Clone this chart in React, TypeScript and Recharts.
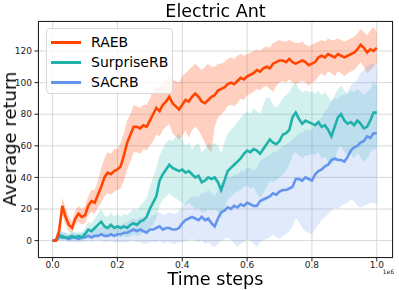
import React from "react";
import { ComposedChart, Line, Area, XAxis, YAxis, CartesianGrid } from "recharts";

// time steps (x 1e6)
const STEPS = [
  0.0, 0.01, 0.02, 0.03, 0.04, 0.05, 0.06, 0.07, 0.08, 0.09,
  0.1, 0.11, 0.12, 0.13, 0.14, 0.15, 0.16, 0.17, 0.18, 0.19,
  0.2, 0.21, 0.22, 0.23, 0.24, 0.25, 0.26, 0.27, 0.28, 0.29,
  0.3, 0.31, 0.32, 0.33, 0.34, 0.35, 0.36, 0.37, 0.38, 0.39,
  0.4, 0.41, 0.42, 0.43, 0.44, 0.45, 0.46, 0.47, 0.48, 0.49,
  0.5, 0.51, 0.52, 0.53, 0.54, 0.55, 0.56, 0.57, 0.58, 0.59,
  0.6, 0.61, 0.62, 0.63, 0.64, 0.65, 0.66, 0.67, 0.68, 0.69,
  0.7, 0.71, 0.72, 0.73, 0.74, 0.75, 0.76, 0.77, 0.78, 0.79,
  0.8, 0.81, 0.82, 0.83, 0.84, 0.85, 0.86, 0.87, 0.88, 0.89,
  0.9, 0.91, 0.92, 0.93, 0.94, 0.95, 0.96, 0.97, 0.98, 0.99,
  1.0,
];

const RAEB_MEAN = [
  0, 0, 6, 22, 15, 10, 8, 14, 17, 15,
  16, 22, 25, 24, 29, 34, 40, 43, 42, 44,
  45, 47, 54, 62, 67, 72, 72, 71, 73, 72,
  76, 80, 84, 82, 86, 88, 91, 87, 85, 83,
  86, 89, 88, 91, 93, 91, 88, 87, 89, 91,
  92, 95, 96, 97, 99, 100, 99, 101, 103, 102,
  104, 105, 106, 108, 107, 109, 110, 109, 112, 113,
  114, 114, 113, 115, 113, 112, 113, 114, 113, 111,
  112, 113, 116, 117, 116, 118, 117, 116, 118, 117,
  116, 117, 118, 119, 121, 124, 122, 119, 121, 120,
  122,
];
const RAEB_LO = [
  0, 0, 3, 16, 10, 6, 5, 10, 12, 10,
  11, 16, 18, 17, 21, 24, 28, 30, 29, 31,
  32, 33, 38, 45, 50, 56, 56, 55, 58, 57,
  60, 63, 67, 66, 70, 72, 74, 68, 66, 64,
  66, 70, 65, 70, 72, 70, 66, 62, 58, 56,
  72, 78, 80, 82, 85, 86, 85, 87, 90, 89,
  92, 93, 94, 96, 95, 97, 98, 96, 94, 98,
  100, 101, 100, 102, 100, 99, 100, 101, 100, 98,
  100, 101, 104, 106, 104, 107, 106, 104, 107, 106,
  104, 106, 107, 108, 110, 113, 110, 106, 108, 110,
  112,
];
const RAEB_HI = [
  0, 0, 10, 27, 21, 15, 12, 19, 22, 20,
  22, 28, 32, 32, 38, 46, 52, 56, 55, 58,
  58, 62, 68, 76, 80, 86, 85, 84, 86, 86,
  90, 95, 98, 97, 100, 102, 105, 102, 101, 100,
  104, 106, 108, 110, 112, 110, 108, 110, 112, 110,
  110, 112, 112, 113, 115, 116, 115, 117, 118, 117,
  118, 119, 120, 121, 120, 122, 123, 122, 125, 126,
  127, 126, 126, 127, 126, 125, 125, 126, 124, 123,
  124, 125, 126, 127, 126, 128, 127, 127, 128, 127,
  126, 127, 128, 129, 131, 134, 132, 130, 133, 135,
  132,
];

const SURPRISE_MEAN = [
  0, 0, 4, 2, 2, 2, 3, 2, 3, 2,
  4, 7, 6, 8, 10, 12, 9, 8, 10, 8,
  9, 8, 9, 8, 10, 11, 10, 12, 13, 15,
  20, 24, 28, 38, 42, 45, 48, 46, 45, 44,
  45, 43, 44, 42, 40, 41, 37, 38, 40, 39,
  40, 37, 32, 38, 44, 46, 48, 50, 52, 55,
  57, 56, 58, 57, 55, 58, 61, 64, 62, 61,
  63, 67, 68, 70, 78, 81, 77, 74, 76, 75,
  74, 73, 75, 72, 73, 70, 66, 72, 78, 80,
  76, 74, 75, 73, 76, 74, 71, 72, 76, 81,
  81,
];
const SURPRISE_LO = [
  0, 0, 1, 0, 0, 0, 0, 0, 0, 0,
  1, 3, 2, 3, 4, 5, 3, 2, 3, 2,
  3, 2, 3, 2, 3, 4, 3, 4, 5, 6,
  8, 10, 14, 22, 26, 28, 30, 28, 27, 25,
  24, 22, 24, 22, 20, 21, 18, 18, 20, 19,
  20, 18, 14, 20, 26, 28, 30, 31, 32, 34,
  35, 33, 34, 30, 27, 30, 34, 38, 37, 38,
  40, 42, 44, 48, 54, 56, 54, 52, 54, 54,
  55, 54, 56, 52, 53, 50, 48, 52, 58, 60,
  56, 54, 55, 52, 56, 53, 50, 52, 56, 58,
  58,
];
const SURPRISE_HI = [
  0, 0, 8, 5, 5, 4, 6, 5, 6, 5,
  8, 12, 11, 14, 17, 20, 16, 15, 18, 15,
  17, 15, 17, 16, 18, 20, 19, 22, 24, 27,
  34, 40, 46, 54, 58, 62, 64, 63, 66, 68,
  64, 60, 62, 58, 60, 62, 56, 58, 62, 60,
  62, 60, 55, 62, 68, 70, 72, 75, 78, 80,
  82, 80, 84, 82, 80, 86, 91, 90, 86, 84,
  87, 90, 92, 94, 98, 100, 96, 94, 95, 94,
  94, 93, 95, 92, 94, 91, 88, 92, 96, 98,
  95, 93, 95, 94, 96, 94, 92, 94, 96, 100,
  98,
];

const SACRB_MEAN = [
  0, 0, 2, 3, 2, 1, 2, 2, 1, 2,
  2, 3, 2, 3, 3, 4, 3, 3, 4, 3,
  4, 4, 5, 5, 6, 7, 6, 7, 6, 5,
  7, 7, 8, 9, 7, 8, 8, 7, 7, 8,
  11, 13, 14, 15, 14, 13, 15, 13, 14, 11,
  9, 14, 18, 19, 21, 20, 22, 21, 23, 22,
  24, 23, 22, 22, 25, 26, 27, 28, 30, 29,
  31, 32, 32, 33, 34, 39, 39, 38, 40, 39,
  38, 42, 44, 45, 47, 48, 51, 52, 51, 51,
  50, 53, 57, 59, 60, 62, 63, 66, 65, 68,
  68,
];
const SACRB_LO = [
  0, 0, 0, 0, 0, -1, -1, -1, -1, -1,
  -1, 0, -1, 0, 0, 0, -1, -1, 0, -1,
  -1, -1, -1, -1, 0, 0, -1, -1, -2, -2,
  -1, -1, -1, 0, -2, -1, -1, -2, -2, -1,
  -1, 0, 0, 1, 0, -1, 0, -2, -1, -3,
  -4, -2, 0, 1, 2, 0, -2, -4, -2, -1,
  1, 0, -2, -4, -1, 0, 1, 2, 4, 2,
  1, 3, 4, 6, 9, 14, 12, 8, 6, 5,
  4, 7, 10, 13, 15, 17, 19, 21, 20, 22,
  23, 24, 26, 25, 22, 21, 22, 23, 24, 24,
  23,
];
const SACRB_HI = [
  0, 0, 5, 6, 5, 4, 5, 5, 4, 5,
  6, 7, 6, 8, 8, 9, 8, 8, 10, 9,
  10, 10, 11, 12, 13, 14, 13, 15, 14, 13,
  15, 16, 17, 18, 16, 17, 18, 17, 17, 19,
  22, 24, 26, 28, 28, 28, 30, 30, 32, 30,
  28, 32, 36, 38, 40, 40, 42, 42, 44, 44,
  46, 46, 44, 46, 50, 52, 53, 54, 56, 56,
  58, 60, 61, 62, 64, 66, 68, 68, 70, 70,
  70, 74, 76, 78, 82, 84, 88, 90, 90, 92,
  92, 94, 98, 100, 102, 106, 108, 110, 112, 112,
  110,
];

const X_TICKS = [0, 0.2, 0.4, 0.6, 0.8, 1.0];
const Y_TICKS = [0, 20, 40, 60, 80, 100, 120];

const SERIES_NAMES = ["RAEB", "SurpriseRB", "SACRB"];
const COLORS = ["#FF4500", "#20B2AA", "#6495ED"];

const data = STEPS.map((s, i) => ({
  s,
  raeb: RAEB_MEAN[i],
  raebBand: [RAEB_LO[i], RAEB_HI[i]],
  sur: SURPRISE_MEAN[i],
  surBand: [SURPRISE_LO[i], SURPRISE_HI[i]],
  sac: SACRB_MEAN[i],
  sacBand: [SACRB_LO[i], SACRB_HI[i]],
}));

const FONT = "'DejaVu Sans', sans-serif";

export default function App() {
  const tickStyle = { fontSize: 9, fill: "#222", fontFamily: FONT };
  return (
    <div style={{ position: "fixed", left: 0, top: 0, width: 399, height: 290, background: "#fff", fontFamily: FONT }}>
      <ComposedChart width={399} height={290} data={data} margin={{ top: 21, right: 6, bottom: 0, left: 0 }}>
        <CartesianGrid stroke="#cfcfcf" strokeWidth={0.8} />
        <XAxis
          dataKey="s"
          type="number"
          domain={[-0.045, 1.05]}
          ticks={X_TICKS}
          allowDataOverflow
          height={32}
          tickFormatter={(v: number) => v.toFixed(1)}
          tick={tickStyle}
          tickSize={3.5}
          tickMargin={0}
          axisLine={false}
          tickLine={{ stroke: "#222" }}
        />
        <YAxis
          type="number"
          domain={[-11, 139]}
          ticks={Y_TICKS}
          allowDataOverflow
          width={38}
          tick={tickStyle}
          tickSize={3.5}
          tickMargin={2.5}
          axisLine={false}
          tickLine={{ stroke: "#222" }}
        />
        <Area dataKey="raebBand" type="linear" stroke="none" fill={COLORS[0]} fillOpacity={0.25} isAnimationActive={false} dot={false} activeDot={false} />
        <Area dataKey="surBand" type="linear" stroke="none" fill={COLORS[1]} fillOpacity={0.2} isAnimationActive={false} dot={false} activeDot={false} />
        <Area dataKey="sacBand" type="linear" stroke="none" fill={COLORS[2]} fillOpacity={0.2} isAnimationActive={false} dot={false} activeDot={false} />
        <Line dataKey="sac" type="linear" stroke={COLORS[2]} strokeWidth={2.6} dot={false} activeDot={false} isAnimationActive={false} />
        <Line dataKey="sur" type="linear" stroke={COLORS[1]} strokeWidth={2.6} dot={false} activeDot={false} isAnimationActive={false} />
        <Line dataKey="raeb" type="linear" stroke={COLORS[0]} strokeWidth={2.6} dot={false} activeDot={false} isAnimationActive={false} />
      </ComposedChart>

      {/* frame */}
      <div style={{ position: "absolute", left: 38, top: 21, width: 355, height: 237, border: "1px solid #222", boxSizing: "border-box", pointerEvents: "none" }} />

      {/* title */}
      <div style={{ position: "absolute", left: 0, width: 431, top: 2, textAlign: "center", fontSize: 17.5, lineHeight: "18px", color: "#000", whiteSpace: "nowrap" }}>
        Electric Ant
      </div>

      {/* x label */}
      <div style={{ position: "absolute", left: 0, width: 431, top: 269.5, textAlign: "center", fontSize: 17.6, lineHeight: "18px", color: "#000", whiteSpace: "nowrap" }}>
        Time steps
      </div>

      {/* y label */}
      <div style={{ position: "absolute", left: 10, top: 138.5, width: 0, height: 0 }}>
        <div style={{ position: "absolute", transform: "translate(-50%, -50%) rotate(-90deg)", fontSize: 18, lineHeight: "18px", whiteSpace: "nowrap", color: "#000" }}>
          Average return
        </div>
      </div>

      {/* offset text */}
      <div style={{ position: "absolute", right: 5, top: 268, fontSize: 6, lineHeight: "7px", color: "#222" }}>1e6</div>

      {/* legend */}
      <div style={{ position: "absolute", left: 45.5, top: 28, width: 127, height: 66, border: "1px solid #d8d8d8", borderRadius: 4, background: "rgba(255,255,255,0.8)", boxSizing: "border-box" }}>
        {SERIES_NAMES.map((name, i) => (
          <div key={name} style={{ position: "absolute", left: 4, top: 3 + i * 20, height: 20, display: "flex", alignItems: "center" }}>
            <div style={{ width: 30, height: 3, background: COLORS[i] }} />
            <div style={{ marginLeft: 10.5, fontSize: 14, lineHeight: "20px", color: "#000", whiteSpace: "nowrap" }}>{name}</div>
          </div>
        ))}
      </div>
    </div>
  );
}
